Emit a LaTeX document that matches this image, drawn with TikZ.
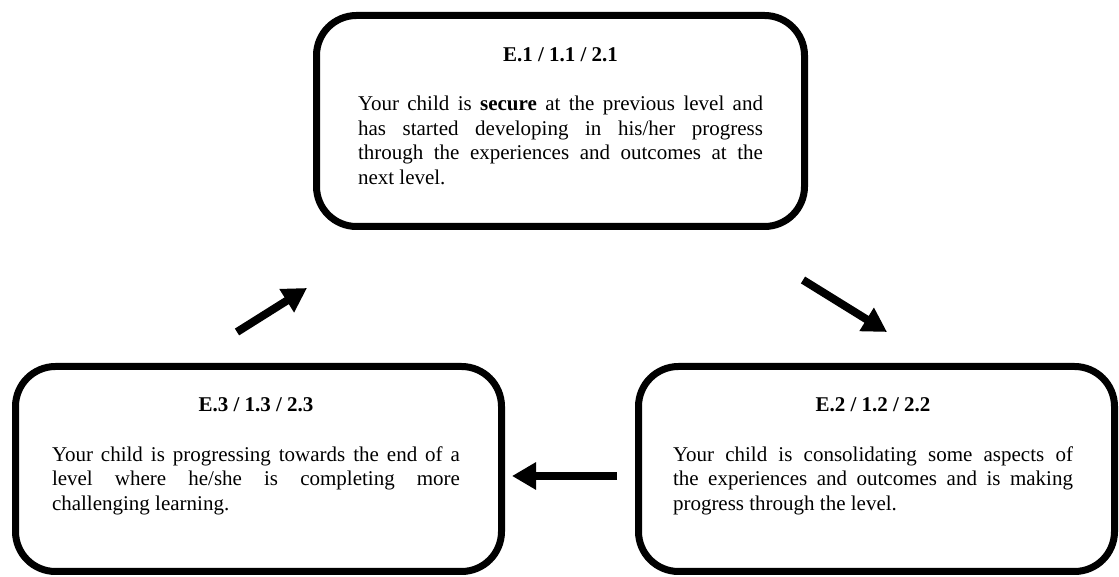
\documentclass[tikz,border=0pt]{standalone}
\usepackage{fontspec}
\setmainfont{Liberation Serif}
\usetikzlibrary{arrows.meta}
\begin{document}
\begin{tikzpicture}[x=1pt,y=1pt,
  stagebox/.style={draw=black, line width=7pt, rounded corners=40pt, rectangle, inner sep=0pt, outer sep=0pt},
  titletext/.style={font=\fontsize{21}{24.5}\selectfont\bfseries, anchor=base, inner sep=0pt},
  bodytext/.style={font=\fontsize{21}{24.5}\selectfont, align=justify, anchor=north, inner sep=0pt},
  bigarrow/.style={line width=8pt, -{Triangle[length=24pt,width=26pt]}}
]
\useasboundingbox (0,0) rectangle (1119,577);
% boxes
\node[stagebox, minimum width=488pt, minimum height=211pt] (topbox) at (560.5,456) {};
\node[stagebox, minimum width=486pt, minimum height=205pt] (leftbox) at (258.5,108) {};
\node[stagebox, minimum width=476pt, minimum height=205pt] (rightbox) at (876.5,108) {};
% titles
\node[titletext] (toptitle) at (560.5,515) {E.1 / 1.1 / 2.1};
\node[titletext] (lefttitle) at (256,165) {E.3 / 1.3 / 2.3};
\node[titletext] (righttitle) at (873,165) {E.2 / 1.2 / 2.2};
% body texts
\node[bodytext, text width=405pt] (toptext) at (560.5,481) {Your child is \textbf{secure} at the previous level and\linebreak has started developing in his/her progress\linebreak through the experiences and outcomes at the\linebreak next level.};
\node[bodytext, text width=408pt] (lefttext) at (256,130.5) {Your child is progressing towards the end of a\linebreak level where he/she is completing more\linebreak challenging learning.};
\node[bodytext, text width=400pt] (righttext) at (873,130.5) {Your child is consolidating some aspects of\linebreak the experiences and outcomes and is making\linebreak progress through the level.};
% arrows
\coordinate (a1s) at (237,245);
\coordinate (a1e) at (307,289);
\coordinate (a2s) at (803,297);
\coordinate (a2e) at (887,245);
\coordinate (a3s) at (617,101);
\coordinate (a3e) at (512,101);
\draw[bigarrow] (a1s) -- (a1e);
\draw[bigarrow] (a2s) -- (a2e);
\draw[bigarrow] (a3s) -- (a3e);
\end{tikzpicture}
\end{document}
